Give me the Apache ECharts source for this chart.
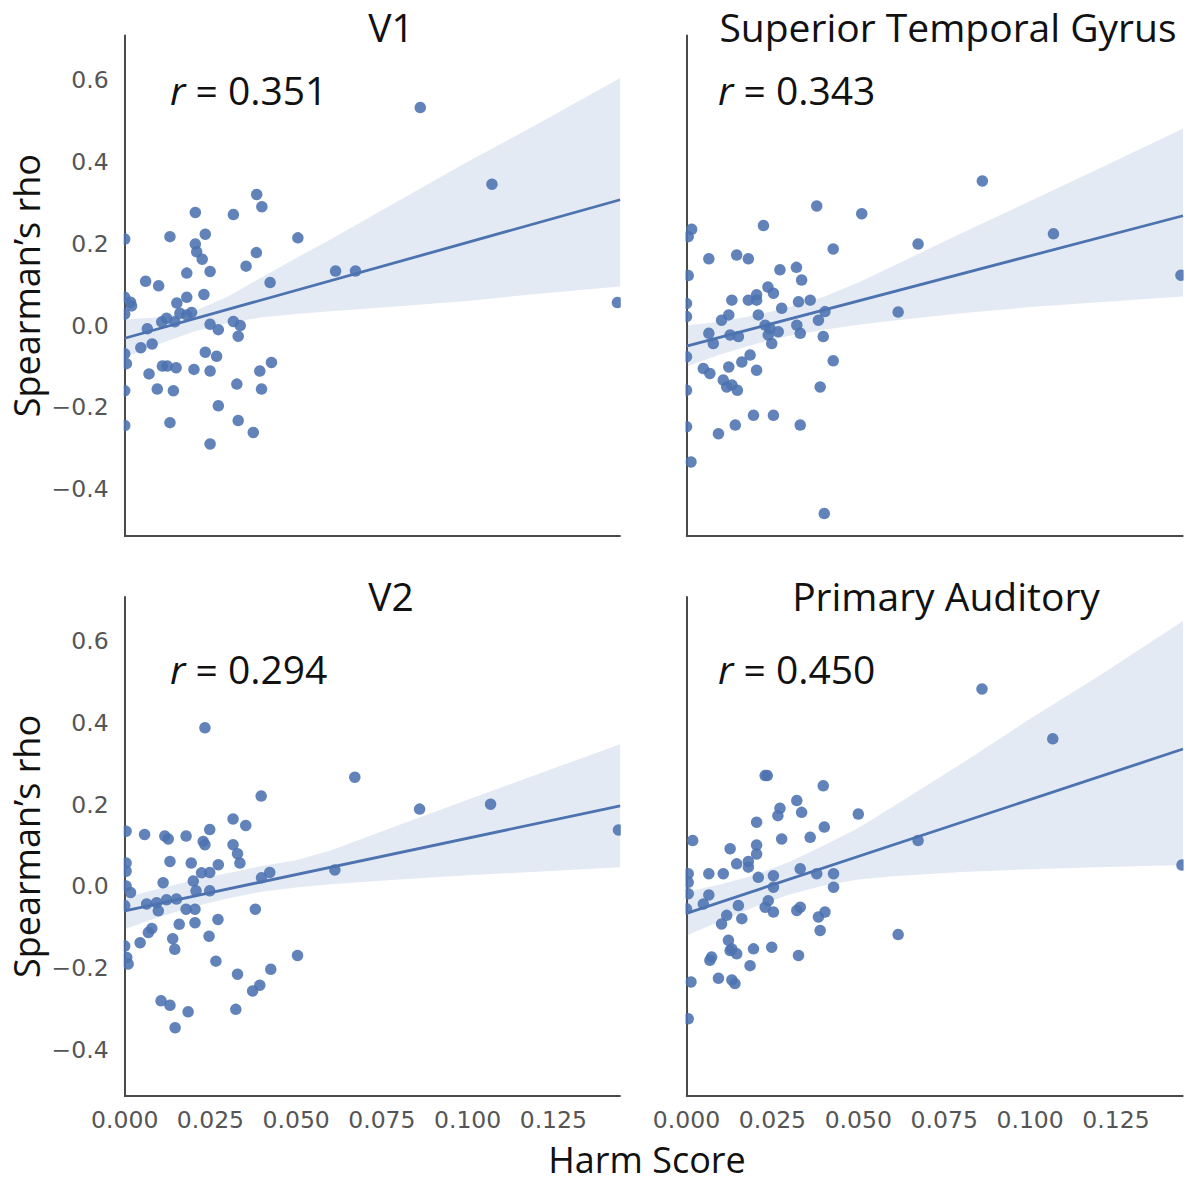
<!DOCTYPE html>
<html>
<head>
<meta charset="utf-8">
<script src="https://cdn.jsdelivr.net/npm/echarts@6/dist/echarts.min.js"></script>
<style>
  html, body { margin: 0; padding: 0; background: #ffffff; }
  #chart { width: 1189px; height: 1183px; }
</style>
</head>
<body>
<div id="chart"></div>
<script>
// ---------------- DATA ----------------
const panelTitles = ['V1', 'Superior Temporal Gyrus', 'V2', 'Primary Auditory'];
const rValues = ['0.351', '0.343', '0.294', '0.450'];
const xAxisTitle = 'Harm Score';
const yAxisTitle = 'Spearman\u2019s rho';

// scatter points [harm score, spearman rho]
const v1Points = [
  [0, 0.211], [0.0132, 0.217], [0.0206, 0.276], [0.0317, 0.271], [0.0385, 0.320], [0.0400, 0.290],
  [0.0235, 0.223], [0.0206, 0.199], [0.0210, 0.180], [0.0226, 0.162], [0.0249, 0.132], [0.0181, 0.128],
  [0.0384, 0.178], [0.0354, 0.145], [0.0505, 0.214], [0.0424, 0.105], [0.0615, 0.133], [0.0673, 0.133],
  [0.0061, 0.108], [0.0099, 0.097], [0.0231, 0.076], [0.0181, 0.069], [0.0152, 0.055],
  [0, 0.069], [0.0017, 0.057], [0.0020, 0.048], [0, 0.028],
  [0.0195, 0.032], [0.0181, 0.026], [0.0161, 0.030], [0.0108, 0.009], [0.0122, 0.018], [0.0146, 0.009],
  [0.0066, -0.008], [0.0249, 0.003], [0.0273, -0.010], [0.0317, 0.010], [0.0337, 0.000], [0.0331, -0.026],
  [0.0047, -0.054], [0.0080, -0.045], [0, -0.069], [0.0005, -0.093], [0.0235, -0.065], [0.0268, -0.075],
  [0.0110, -0.099], [0.0124, -0.099], [0.0150, -0.103], [0.0202, -0.107], [0.0249, -0.111], [0.0071, -0.118],
  [0.0394, -0.111], [0.0428, -0.090], [0.0327, -0.143], [0.0399, -0.155], [0.0095, -0.155], [0.0142, -0.159],
  [0, -0.159], [0.0273, -0.196], [0.0132, -0.237], [0.0331, -0.232], [0.0375, -0.261], [0, -0.244],
  [0.0249, -0.289],
  [0.0862, 0.532], [0.1071, 0.345], [0.1437, 0.056]
];
const stgPoints = [
  [0.0379, 0.292], [0.0510, 0.273], [0.0015, 0.235], [0.0005, 0.217], [0.0224, 0.244], [0.0065, 0.163],
  [0.0146, 0.172], [0.0180, 0.163], [0.0427, 0.187], [0.0005, 0.122], [0.0272, 0.136], [0.0320, 0.142],
  [0.0335, 0.111], [0.0237, 0.094], [0.0253, 0.079], [0.0204, 0.075], [0.0180, 0.062], [0.0204, 0.062],
  [0.0132, 0.062], [0, 0.054], [0, 0.022], [0.0123, 0.026], [0.0102, 0.013], [0.0209, 0.026],
  [0.0277, 0.042], [0.0326, 0.058], [0.0360, 0.062], [0.0403, 0.034], [0.0384, 0.013], [0.0229, 0.001],
  [0.0243, -0.007], [0.0321, 0.001], [0.0331, -0.019], [0.0065, -0.019], [0.0078, -0.044], [0.0127, -0.023],
  [0.0151, -0.027], [0.0238, -0.023], [0.0248, -0.044], [0.0267, -0.015], [0.0398, -0.027], [0, -0.076],
  [0.0185, -0.072], [0.0161, -0.089], [0.0123, -0.101], [0.0204, -0.109], [0.0427, -0.086], [0.0049, -0.105],
  [0.0068, -0.117], [0.0107, -0.133], [0.0117, -0.150], [0.0132, -0.145], [0.0148, -0.158], [0.0389, -0.150],
  [0, -0.158], [0.0195, -0.219], [0.0253, -0.219], [0.0142, -0.243], [0.0093, -0.264], [0.0331, -0.243],
  [0, -0.247], [0.0013, -0.333], [0.0401, -0.459],
  [0.0674, 0.199], [0.0616, 0.033], [0.0861, 0.353], [0.1068, 0.224], [0.1439, 0.123]
];
const v2Points = [
  [0.0234, 0.388], [0.0398, 0.221], [0.0316, 0.165], [0.0353, 0.149], [0.0004, 0.135], [0.0058, 0.127],
  [0.0117, 0.123], [0.0127, 0.116], [0.0179, 0.123], [0.0248, 0.139], [0.0229, 0.110], [0.0234, 0.102],
  [0.0316, 0.102], [0.0329, 0.080], [0.0336, 0.057], [0.0004, 0.057], [0.0004, 0.037], [0.0132, 0.061],
  [0.0194, 0.057], [0.0273, 0.053], [0.0224, 0.033], [0.0248, 0.034], [0.0200, 0.013], [0.0112, 0.009],
  [0.0399, 0.021], [0.0423, 0.034], [0.0004, 0.001], [0.0017, -0.015], [0.0208, -0.011], [0.0248, -0.011],
  [0, -0.047], [0.0064, -0.043], [0.0093, -0.040], [0.0122, -0.033], [0.0151, -0.031], [0.0098, -0.060],
  [0.0179, -0.056], [0.0205, -0.056], [0.0381, -0.056], [0.0272, -0.081], [0.0159, -0.093], [0.0205, -0.089],
  [0.0079, -0.103], [0.0069, -0.113], [0.0246, -0.122], [0.0140, -0.128], [0.0146, -0.154], [0.0045, -0.138],
  [0, -0.146], [0.0006, -0.174], [0.0010, -0.190], [0.0266, -0.183], [0.0504, -0.169], [0.0426, -0.203],
  [0.0329, -0.215], [0.0394, -0.242], [0.0373, -0.256], [0.0106, -0.280], [0.0132, -0.291], [0.0185, -0.307],
  [0.0324, -0.301], [0.0147, -0.346],
  [0.0671, 0.267], [0.0613, 0.040], [0.0860, 0.189], [0.1067, 0.201], [0.1440, 0.138]
];
const paPoints = [
  [0.0229, 0.271], [0.0235, 0.271], [0.0398, 0.246], [0.0321, 0.210], [0.0335, 0.181], [0.0272, 0.191],
  [0.0266, 0.173], [0.0204, 0.157], [0.0401, 0.145], [0.0500, 0.177], [0.0018, 0.112], [0.0127, 0.092],
  [0.0204, 0.101], [0.0204, 0.079], [0.0277, 0.116], [0.0360, 0.120], [0.0146, 0.055], [0.0180, 0.061],
  [0.0180, 0.047], [0.0005, 0.031], [0.0005, 0.010], [0.0005, -0.018], [0.0065, 0.031], [0.0107, 0.031],
  [0.0209, 0.022], [0.0253, 0.026], [0.0331, 0.043], [0.0379, 0.031], [0.0428, 0.031], [0.0428, -0.002],
  [0.0253, -0.002], [0.0065, -0.021], [0.0049, -0.043], [0.0238, -0.035], [0.0229, -0.051], [0.0253, -0.063],
  [0.0151, -0.047], [0, -0.055], [0.0321, -0.059], [0.0331, -0.051], [0.0403, -0.063], [0.0384, -0.075],
  [0.0117, -0.071], [0.0102, -0.092], [0.0161, -0.079], [0.0389, -0.108], [0.0122, -0.132], [0.0127, -0.157],
  [0.0146, -0.165], [0.0132, -0.153], [0.0195, -0.153], [0.0248, -0.149], [0.0326, -0.169], [0.0073, -0.173],
  [0.0068, -0.181], [0.0185, -0.194], [0.0093, -0.225], [0.0132, -0.229], [0.0141, -0.238], [0.0013, -0.234],
  [0.0005, -0.324],
  [0.0860, 0.483], [0.1066, 0.361], [0.0674, 0.112], [0.0616, -0.118], [0.1442, 0.052]
];

// regression line end points (x = 0 and x = right edge)
const lineX = [0, 0.1445];
const v1Line = [-0.031, 0.307];
const stgLine = [-0.050, 0.268];
const v2Line = [-0.060, 0.197];
const paLine = [-0.066, 0.336];

// confidence band, read at these x positions
const bandX = [0, 0.01, 0.02, 0.03, 0.04, 0.05, 0.06, 0.08, 0.10, 0.12, 0.1445];
const v1Upper = [0.015, 0.020, 0.034, 0.070, 0.118, 0.165, 0.210, 0.305, 0.400, 0.490, 0.604];
const v1Lower = [-0.078, -0.045, -0.015, 0.006, 0.020, 0.028, 0.035, 0.047, 0.060, 0.077, 0.095];
const stgUpper = [0.000, 0.010, 0.025, 0.045, 0.070, 0.105, 0.145, 0.225, 0.304, 0.383, 0.481];
const stgLower = [-0.100, -0.070, -0.045, -0.025, -0.010, 0.002, 0.012, 0.030, 0.045, 0.057, 0.071];
const v2Upper = [-0.028, -0.005, 0.015, 0.032, 0.050, 0.064, 0.088, 0.150, 0.212, 0.273, 0.348];
const v2Lower = [-0.105, -0.075, -0.050, -0.030, -0.013, -0.003, 0.005, 0.017, 0.027, 0.036, 0.047];
const paUpper = [-0.014, 0.005, 0.028, 0.060, 0.100, 0.143, 0.195, 0.300, 0.410, 0.515, 0.649];
const paLower = [-0.120, -0.085, -0.050, -0.020, 0.002, 0.017, 0.025, 0.035, 0.042, 0.047, 0.052];

// axis settings
const xMin = 0, xMax = 0.1445, xStep = 0.025;
const yMin = -0.513, yMax = 0.708;

// ---------------- CHART ----------------
const panels = [
  { pts: v1Points,  line: v1Line,  up: v1Upper,  lo: v1Lower },
  { pts: stgPoints, line: stgLine, up: stgUpper, lo: stgLower },
  { pts: v2Points,  line: v2Line,  up: v2Upper,  lo: v2Lower },
  { pts: paPoints,  line: paLine,  up: paUpper,  lo: paLower }
];

const BLUE = '#4c72b0';
const grids = [
  { left: 124.7, top: 35.5, width: 495.5, height: 500.2 },
  { left: 686.5, top: 35.5, width: 496.5, height: 500.2 },
  { left: 124.7, top: 597,  width: 495.5, height: 499 },
  { left: 686.5, top: 597,  width: 496.5, height: 499 }
];

const axisLineStyle = { color: '#4a4a4a', width: 2 };
const tickFont = { fontFamily: 'DejaVu Sans', fontSize: 23.5, color: '#555555' };
const FS = 39;

const xAxes = grids.map((g, i) => ({
  gridIndex: i, type: 'value', min: xMin, max: xMax, interval: xStep,
  axisLine: { show: true, onZero: false, lineStyle: axisLineStyle },
  axisTick: { show: false }, splitLine: { show: false },
  axisLabel: Object.assign({
    show: i >= 2, margin: 12, showMaxLabel: false,
    formatter: v => v.toFixed(3)
  }, tickFont)
}));
const yAxes = grids.map((g, i) => ({
  gridIndex: i, type: 'value', min: yMin, max: yMax, splitNumber: 5,
  axisLine: { show: true, onZero: false, lineStyle: axisLineStyle },
  axisTick: { show: false }, splitLine: { show: false },
  axisLabel: Object.assign({
    show: i % 2 === 0, margin: 16, showMinLabel: false, showMaxLabel: false,
    formatter: v => v.toFixed(1).replace('-', '\u2212')
  }, tickFont),
  name: i % 2 === 0 ? yAxisTitle : '',
  nameLocation: 'middle', nameGap: 80, nameRotate: 90,
  nameTextStyle: { fontFamily: 'Open Sans', fontSize: 36, color: '#111111' }
}));

const series = [];
panels.forEach((p, i) => {
  series.push({
    type: 'custom', xAxisIndex: i, yAxisIndex: i, silent: true, z: 1,
    data: bandX.map((x, k) => [x, p.lo[k], p.up[k]]),
    encode: { x: 0, y: [1, 2] },
    renderItem: function (params, api) {
      if (params.dataIndex !== 0) return null;
      const pts = [];
      for (let k = 0; k < bandX.length; k++) pts.push(api.coord([bandX[k], p.up[k]]));
      for (let k = bandX.length - 1; k >= 0; k--) pts.push(api.coord([bandX[k], p.lo[k]]));
      return { type: 'polygon', shape: { points: pts }, style: { fill: 'rgba(76,114,176,0.15)' } };
    }
  });
  series.push({
    type: 'scatter', xAxisIndex: i, yAxisIndex: i, z: 2,
    data: p.pts, symbolSize: 11.5,
    itemStyle: { color: BLUE, opacity: 0.88 }
  });
  series.push({
    type: 'line', xAxisIndex: i, yAxisIndex: i, z: 3,
    data: lineX.map((x, k) => [x, p.line[k]]),
    showSymbol: false, symbol: 'none',
    lineStyle: { color: BLUE, width: 2.8 }
  });
});

// text overlays and white masks that clip marks at the frame edges
const graphics = [];
grids.forEach((g, i) => {
  graphics.push({ type: 'rect', z: 50, silent: true,
    shape: { x: g.left - 14, y: g.top - 8, width: 13, height: g.height + 16 },
    style: { fill: '#ffffff' } });
  graphics.push({ type: 'rect', z: 50, silent: true,
    shape: { x: g.left + g.width + 0.6, y: g.top - 8, width: 18, height: g.height + 16 },
    style: { fill: '#ffffff' } });
});
const titleCenters = [[391, 26], [948, 26], [391, 595], [946, 595]];
const rPos = [[170, 89], [718, 89], [170, 668], [718, 668]];
panelTitles.forEach((t, i) => {
  graphics.push({ type: 'text', z: 60, x: titleCenters[i][0], y: titleCenters[i][1],
    style: { text: t, fontFamily: 'Open Sans', fontSize: FS, fill: '#111111',
             align: 'center', verticalAlign: 'middle' } });
  graphics.push({ type: 'text', z: 60, x: rPos[i][0], y: rPos[i][1],
    style: { text: '{i|r} = ' + rValues[i], fontFamily: 'Open Sans', fontSize: FS, fill: '#111111',
             align: 'left', verticalAlign: 'middle',
             rich: { i: { fontStyle: 'italic', fontFamily: 'Open Sans', fontSize: FS, fill: '#111111' } } } });
});
graphics.push({ type: 'text', z: 60, x: 647, y: 1159,
  style: { text: xAxisTitle, fontFamily: 'Open Sans', fontSize: 36, lineHeight: 32, fill: '#111111',
           align: 'center', verticalAlign: 'middle' } });

const chart = echarts.init(document.getElementById('chart'), null, { renderer: 'svg' });
chart.setOption({
  animation: false,
  backgroundColor: '#ffffff',
  grid: grids,
  xAxis: xAxes,
  yAxis: yAxes,
  series: series,
  graphic: graphics
});
</script>
</body>
</html>
